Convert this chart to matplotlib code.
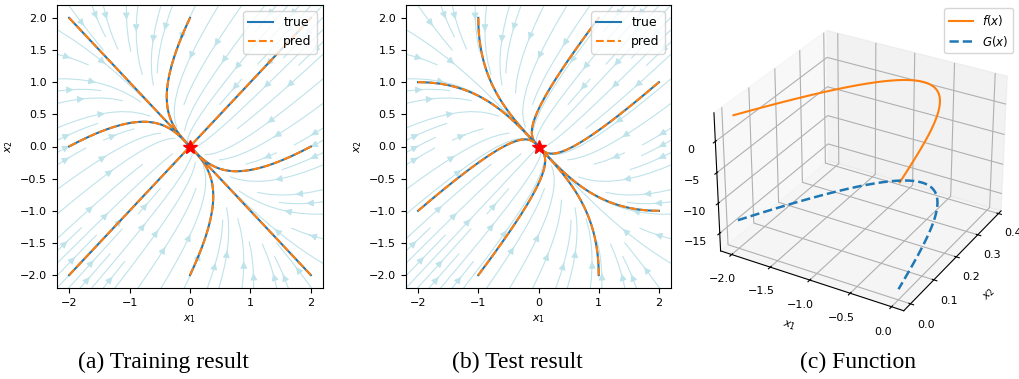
import matplotlib
matplotlib.use("Agg")
import matplotlib.pyplot as plt
import numpy as np

# linear system read from the phase portraits: fast mode along (1,1), slow along (-1,1)
eig_vals = [-3.0, -1.0]
eig_vecs = [[1.0, -1.0], [1.0, 1.0]]  # columns: (1,1), (-1,1)

train_starts = [(-2, 2), (0, 2), (2, 2), (-2, 0), (2, 0), (-2, -2), (0, -2), (2, -2)]
test_starts = [(-1, 2), (1, 2), (-2, 1), (2, 1), (-2, -1), (2, -1), (-1, -2), (1, -2)]

# 3D panel: trajectory from (-2, 0); f(x) ~ f_base + f_curv * x1^2, G(x) = f(x) - G_shift
curve_start = (-2, 0)
f_base = 0.75
f_curv = 0.75
G_shift = 17.0
z_range = (-18, 4.5)

captions = ["(a) Training result", "(b) Test result", "(c) Function"]

V = np.array(eig_vecs)
Vinv = np.linalg.inv(V)
lam = np.array(eig_vals)


def field(X, Y):
    A = V @ np.diag(lam) @ Vinv
    return A[0, 0] * X + A[0, 1] * Y, A[1, 0] * X + A[1, 1] * Y


def trajectory(x0, t_end=8.0, n=600):
    t = np.linspace(0, t_end, n)
    c = Vinv @ np.array(x0, dtype=float)
    modes = c[:, None] * np.exp(lam[:, None] * t[None, :])
    xy = V @ modes
    return xy[0], xy[1]


def phase_panel(ax, starts):
    g = np.linspace(-2.2, 2.2, 60)
    X, Y = np.meshgrid(g, g)
    U, W = field(X, Y)
    ax.streamplot(X, Y, U, W, color="#bfe3ea", linewidth=0.8, density=0.8,
                  arrowsize=1.0)
    for i, s in enumerate(starts):
        x, y = trajectory(s)
        ax.plot(x, y, color="C0", lw=1.5, label="true" if i == 0 else None)
        ax.plot(x, y, color="C1", lw=1.5, ls="--", label="pred" if i == 0 else None)
    ax.plot(0, 0, marker="*", color="red", ms=10, ls="none", zorder=5)
    ax.set_xlim(-2.2, 2.2)
    ax.set_ylim(-2.2, 2.2)
    ax.set_xticks([-2, -1, 0, 1, 2])
    ax.set_yticks(np.arange(-2.0, 2.01, 0.5))
    ax.tick_params(labelsize=8)
    ax.set_xlabel("$x_1$", fontsize=8)
    ax.set_ylabel("$x_2$", fontsize=8)
    ax.legend(loc="upper right", fontsize=9)


fig = plt.figure(figsize=(10.19, 3.79), dpi=100)
W_px, H_px = 1019, 379
ax1 = fig.add_axes([57 / W_px, 1 - 288 / H_px, 266 / W_px, 283 / H_px])
ax2 = fig.add_axes([406 / W_px, 1 - 288 / H_px, 265 / W_px, 283 / H_px])
phase_panel(ax1, train_starts)
phase_panel(ax2, test_starts)

ax3 = fig.add_axes([0.683, 0.1095, 0.32, 0.893], projection="3d")
x, y = trajectory(curve_start)
zf = f_base + f_curv * x ** 2
zg = zf - G_shift
ax3.plot(x, y, zf, color="C1", lw=1.5, label="$f(x)$")
ax3.plot(x, y, zg, color="C0", lw=1.8, ls="--", label="$G(x)$")
ax3.set_zlim(*z_range)
ax3.set_xticks([-2.0, -1.5, -1.0, -0.5, 0.0])
ax3.set_yticks([0.0, 0.1, 0.2, 0.3, 0.4])
ax3.set_zticks([0, -5, -10, -15])
ax3.zaxis.set_ticks_position("lower")
ax3.zaxis.set_label_position("lower")
ax3.tick_params(labelsize=8, pad=2)
ax3.set_xlabel("$x_1$", fontsize=8, labelpad=2)
ax3.set_ylabel("$x_2$", fontsize=8, labelpad=2)
ax3.legend(loc="upper right", fontsize=8.5, bbox_to_anchor=(1013 / W_px, 1 - 8 / H_px),
           bbox_transform=fig.transFigure, borderaxespad=0)

for cx, txt in zip([163, 517, 858], captions):
    fig.text(cx / W_px, 1 - 362 / H_px, txt, ha="center", va="center",
             fontsize=17, family="Liberation Serif")

fig.savefig("out.png", dpi=100)
